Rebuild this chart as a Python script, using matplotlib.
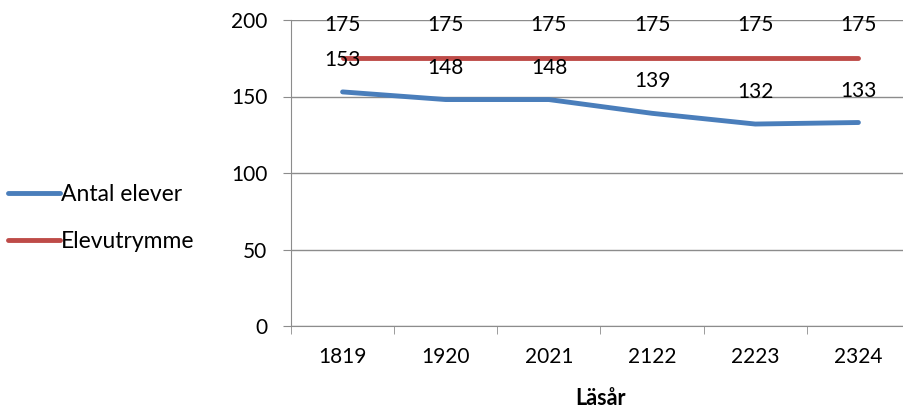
import matplotlib.pyplot as plt
import numpy as np

plt.rcParams['font.family'] = ['Lato', 'DejaVu Sans']

years = ["1819", "1920", "2021", "2122", "2223", "2324"]
antal_elever = [153, 148, 148, 139, 132, 133]
elevutrymme = [175, 175, 175, 175, 175, 175]

blue = "#4a7ebb"
red = "#be4b48"

fig = plt.figure(figsize=(9.04, 4.12), dpi=100)
ax = fig.add_axes([291 / 904, 1 - 326 / 412, (910 - 291) / 904, (326 - 20) / 412])

x = np.arange(len(years))
l1, = ax.plot(x, antal_elever, color=blue, lw=3.5, solid_capstyle="round", label="Antal elever")
l2, = ax.plot(x, elevutrymme, color=red, lw=3.5, solid_capstyle="round", label="Elevutrymme")

for xi, v in zip(x, antal_elever):
    ax.annotate(str(v), (xi, v), xytext=(0, 23), textcoords="offset points",
                ha="center", va="center", fontsize=15)
for xi, v in zip(x, elevutrymme):
    ax.annotate(str(v), (xi, v), xytext=(0, 24), textcoords="offset points",
                ha="center", va="center", fontsize=15)

ax.set_xlim(-0.5, len(years) - 0.5)
ax.set_ylim(0, 200)
ax.set_yticks([0, 50, 100, 150, 200])
ax.yaxis.grid(True, color="#8c8c8c", lw=1)
ax.set_axisbelow(True)
ax.set_xticks(x)
ax.set_xticklabels(years)
ax.set_xticks(np.arange(-0.5, len(years)), minor=True)
ax.tick_params(axis="x", which="major", length=0, pad=15, labelsize=15)
ax.tick_params(axis="x", which="minor", length=5.5, color="#8c8c8c")
ax.tick_params(axis="y", length=5.5, color="#8c8c8c", labelsize=15, pad=11.5)
for s in ["top", "right"]:
    ax.spines[s].set_visible(False)
ax.spines["left"].set_color("#8c8c8c")
ax.spines["bottom"].set_color("#8c8c8c")
ax.set_xlabel("Läsår", fontsize=15.5, fontweight="bold", labelpad=15)

fig.legend(handles=[l1, l2], loc="center left", bbox_to_anchor=(0.009, 1 - 218 / 412),
           frameon=False, fontsize=16.5, handlelength=2.25, handletextpad=0.05,
           labelspacing=1.1, borderaxespad=0, borderpad=0)

fig.savefig("out.png", dpi=100)
